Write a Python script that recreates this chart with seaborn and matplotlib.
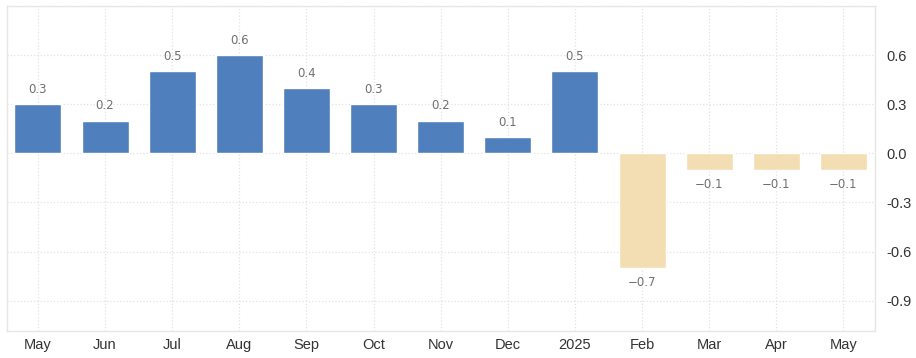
import numpy as np
import pandas as pd
import seaborn as sns
import matplotlib.pyplot as plt

months = ["May", "Jun", "Jul", "Aug", "Sep", "Oct", "Nov", "Dec", "2025", "Feb", "Mar", "Apr", "May"]
values = [0.3, 0.2, 0.5, 0.6, 0.4, 0.3, 0.2, 0.1, 0.5, -0.7, -0.1, -0.1, -0.1]
yticks = [-0.9, -0.6, -0.3, 0.0, 0.3, 0.6]

blue = "#4f80bd"
beige = "#f3ddb3"

sns.set_style("white")
plt.rcParams['font.family'] = ['Liberation Sans', 'DejaVu Sans']

df = pd.DataFrame({"pos": range(len(months)), "value": values})
df["sign"] = np.where(df["value"] >= 0, "up", "down")

fig = plt.figure(figsize=(9.16, 3.58), dpi=100)
ax = fig.add_axes([7 / 916, 27 / 358, 868 / 916, 325 / 358])

sns.barplot(data=df, x="pos", y="value", hue="sign",
            palette={"up": blue, "down": beige}, dodge=False, saturation=1,
            width=0.7, legend=False, ax=ax, zorder=3)

ax.set_xlim(-0.46, len(months) - 0.53)
ax.set_ylim(-1.085, 0.9)
ax.set_xticks(range(len(months)))
ax.set_xticklabels(months, fontsize=10.5, color="#333333")
ax.set_yticks(yticks + [0.9])
ax.set_yticklabels([f"{t:.1f}" for t in yticks] + [""], fontsize=10.5, color="#333333")
ax.yaxis.tick_right()
ax.tick_params(axis="x", length=0, pad=5)
ax.tick_params(axis="y", length=0, pad=8)
ax.set_xlabel("")
ax.set_ylabel("")

ax.grid(True, color="#e2e2e2", linestyle=":", linewidth=0.9, zorder=0)
ax.set_axisbelow(True)
for s in ax.spines.values():
    s.set_color("#e6e6e6")
    s.set_linewidth(1.0)

for i, v in enumerate(values):
    if v >= 0:
        ax.annotate(f"{v:.1f}", (i, v), xytext=(0, 6), textcoords="offset points",
                    ha="center", va="bottom", fontsize=8.5, color="#707070",
                    family="DejaVu Sans")
    else:
        ax.annotate(f"\u2212{abs(v):.1f}", (i, v), xytext=(0, -6), textcoords="offset points",
                    ha="center", va="top", fontsize=8.5, color="#707070",
                    family="DejaVu Sans")

fig.savefig("out.png", dpi=100)
